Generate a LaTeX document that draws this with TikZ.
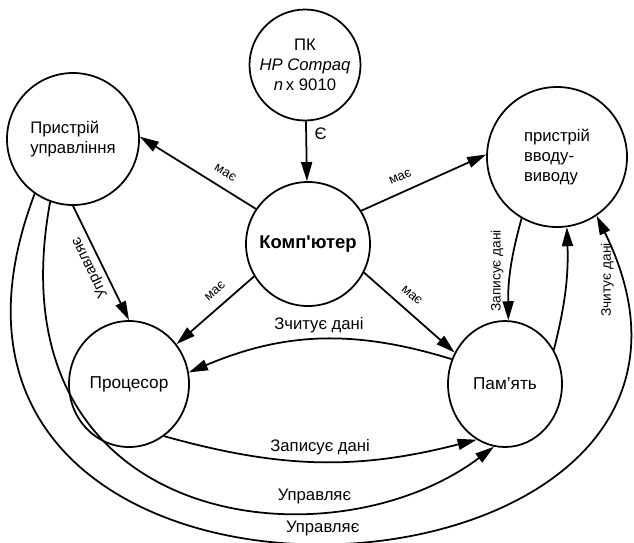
\documentclass[tikz,border=0pt]{standalone}
\usepackage{fontspec}
\setmainfont{Liberation Sans}
\usepackage{tikz}
\usetikzlibrary{positioning, shapes.geometric, arrows.meta}
\tikzstyle{state} = [circle, draw=black, line width=1pt, align=center, inner sep=0pt, font=\fontsize{9.5}{11.5}\selectfont]
\tikzstyle{oval} = [ellipse, draw=black, line width=1pt, align=center, inner sep=0pt, font=\fontsize{9.8}{11.5}\selectfont]
\tikzstyle{arrow} = [line width=1pt,-{Triangle[length=3.8mm,width=2.2mm]}]
\tikzstyle{has} = [font=\fontsize{7.5}{9}\selectfont, sloped, above=2.5pt]
\tikzstyle{lbl} = [font=\fontsize{9.5}{11.5}\selectfont]
\tikzstyle{side} = [font=\fontsize{7.8}{9}\selectfont]

\begin{document}
\begin{tikzpicture}[node distance=2cm,]
		\useasboundingbox (0,0) rectangle (12.68,-10.84);
		\node (comp) [state, minimum size=2.48cm, font=\fontsize{10.5}{12}\selectfont\bfseries] at (6.16,-4.88) {Комп\textquotesingle ютер};
		\node (pk) [state, minimum size=2.22cm, above of=comp, xshift=-0.06cm, yshift=1.58cm] {ПК\\\textit{HP Compaq}\\\textit{n}\,x 9010};
		\node (ctrl) [state, minimum size=2.64cm, left of=comp, xshift=-2.7cm, yshift=2.1cm, align=left] {Пристрій\\управління};
		\node (io) [state, minimum size=2.8cm, right of=comp, xshift=2.98cm, yshift=1.74cm, align=left] {пристрій\\вводу-\\виводу};
		\node (proc) [oval, minimum width=2.4cm, minimum height=2.52cm, below of=comp, xshift=-3.58cm, yshift=-0.8cm] {Процесор};
		\node (mem) [oval, minimum width=2.28cm, minimum height=2.52cm, below of=comp, xshift=3.94cm, yshift=-0.8cm] {Пам'ять};
		\draw [arrow](pk) -- node[lbl, right=1pt, pos=0.2] {Є}(comp);
		\draw [arrow](comp.146) -- node[has, pos=0.33] {має}(ctrl.2);
		\draw [arrow](comp.32) -- node[has, pos=0.36] {має}(io.178);
		\draw [arrow](comp.-149) -- node[has, pos=0.38] {має}(proc.40);
		\draw [arrow](comp.-27) -- node[has, pos=0.42] {має}(mem.148);
		\draw [arrow](ctrl.south) -- node[side, font=\fontsize{8.5}{10}\selectfont, rotate=116, above=2pt, pos=0.52] {Управляє}(proc.north);
		\draw [arrow](mem.155) to[bend right=20] node[lbl, above] {Зчитує дані}(proc.11);
		\draw [arrow](proc.-56) to[bend right=15] node[lbl, above] {Записує дані}(mem.-117);
		\draw [arrow](io.-120) to[bend right=8] node[side, rotate=90, above=1.5pt, pos=0.55] {Записує дані}(mem.87);
		\draw [arrow](mem.35) to[bend right=8] node[side, below, xshift=0.56cm, rotate=90, pos=0.58] {Зчитує дані}(io.-82);
		\draw [arrow](ctrl.-110) .. controls (-0.2,-10.6) and (6.6,-11.4) .. node[lbl, above, pos=0.7] {Управляє}(mem.-100);
		\draw [arrow](ctrl.-125) .. controls (-3.0,-13.6) and (16.0,-12.6) .. node[lbl, above, pos=0.5] {Управляє}(io.-56);
	\end{tikzpicture}
\end{document}
